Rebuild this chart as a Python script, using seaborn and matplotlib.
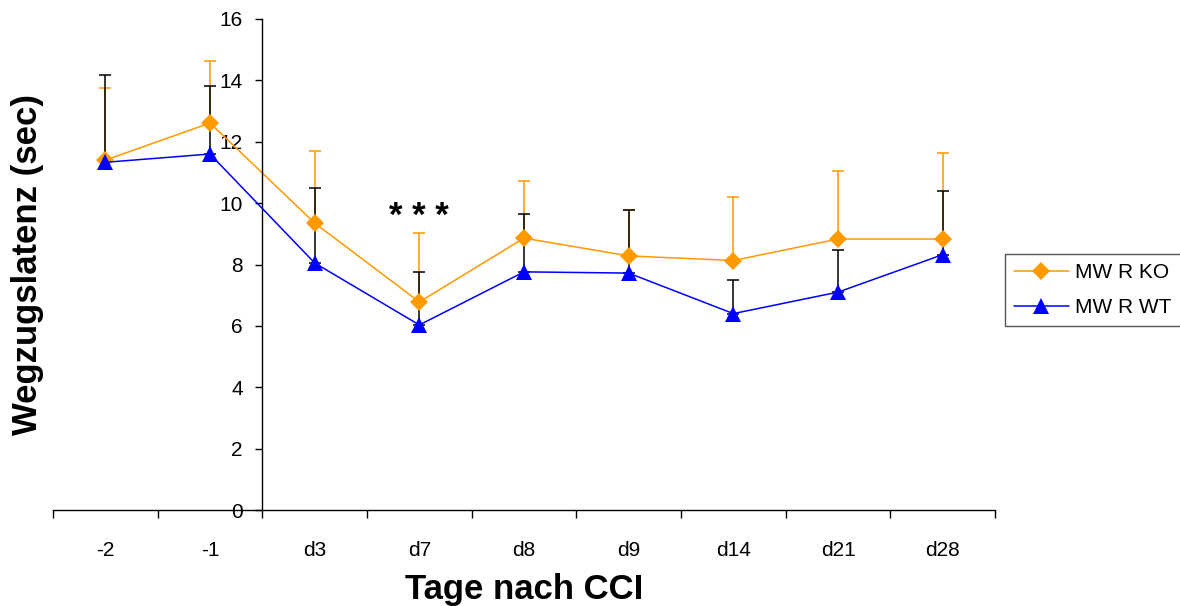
import matplotlib
matplotlib.use('Agg')
import matplotlib.pyplot as plt
from matplotlib.ticker import FixedLocator
import seaborn as sns
import pandas as pd
import numpy as np

sns.set_style('ticks')
plt.rcParams['font.family'] = ['Liberation Sans', 'DejaVu Sans']
plt.rcParams['text.color'] = 'black'
plt.rcParams['axes.labelcolor'] = 'black'

days = ['-2', '-1', 'd3', 'd7', 'd8', 'd9', 'd14', 'd21', 'd28']
ko_mean = [11.40, 12.61, 9.35, 6.78, 8.86, 8.28, 8.13, 8.83, 8.83]
ko_upper = [13.75, 14.63, 11.70, 9.03, 10.72, 9.78, 10.20, 11.05, 11.63]
wt_mean = [11.33, 11.60, 8.05, 6.03, 7.76, 7.72, 6.40, 7.10, 8.32]
wt_upper = [14.17, 13.82, 10.49, 7.75, 9.64, 9.78, 7.49, 8.47, 10.39]

ko_color = '#FF9900'
wt_color = '#0000FF'

df = pd.DataFrame({
    'Tag': days * 2,
    'Wert': ko_mean + wt_mean,
    'Gruppe': ['MW R KO'] * len(days) + ['MW R WT'] * len(days),
})

fig = plt.figure(figsize=(11.8, 6.06), dpi=100)
ax = fig.add_axes([53 / 1180, 1 - 510 / 606, 942 / 1180, 491 / 606])

pos = np.arange(len(days))
ax.errorbar(pos, ko_mean, yerr=[np.zeros(len(days)), np.array(ko_upper) - np.array(ko_mean)],
            fmt='none', ecolor=ko_color, elinewidth=1.1, capsize=4.5, capthick=1.1, zorder=1)
ax.errorbar(pos, wt_mean, yerr=[np.zeros(len(days)), np.array(wt_upper) - np.array(wt_mean)],
            fmt='none', ecolor='black', elinewidth=1.1, capsize=4.5, capthick=1.1, zorder=1)

sns.lineplot(data=df, x='Tag', y='Wert', hue='Gruppe', style='Gruppe', sort=False,
             palette={'MW R KO': ko_color, 'MW R WT': wt_color},
             markers={'MW R KO': 'D', 'MW R WT': '^'}, dashes=False,
             markersize=12, markeredgewidth=0, linewidth=1.1, ax=ax, zorder=3)
for line in ax.get_lines():
    if line.get_marker() == 'D':
        line.set_markersize(9)
        line.set_zorder(2)

ax.set_xlim(-0.5, len(days) - 0.5)
ax.set_ylim(0, 16)
ax.set_yticks(range(0, 17, 2))
ax.spines['left'].set_position(('data', 1.5))
ax.spines['top'].set_visible(False)
ax.spines['right'].set_visible(False)
for s in ['left', 'bottom']:
    ax.spines[s].set_linewidth(1.0)
    ax.spines[s].set_color('black')

ax.set_xticks(pos)
ax.set_xticklabels(days)
ax.xaxis.set_minor_locator(FixedLocator(np.arange(-0.5, len(days), 1.0)))
ax.tick_params(axis='x', which='major', length=0, pad=22, labelsize=15, colors='black')
ax.tick_params(axis='x', which='minor', length=6, width=1.0, direction='out', color='black')
ax.tick_params(axis='y', length=5, width=1.0, direction='out', pad=9, labelsize=15, colors='black')

ax.set_xlabel('Tage nach CCI', fontsize=25, fontweight='bold', color='black')
ax.set_ylabel('Wegzugslatenz (sec)', fontsize=25, fontweight='bold', color='black')
ax.xaxis.set_label_coords(0.5, -0.128)
ax.yaxis.set_label_coords(-0.010, 0.5)

ax.text(3, 9.55, '* * *', ha='center', va='center', fontsize=25, fontweight='bold', color='black')

handles, labels = ax.get_legend_handles_labels()
leg = ax.legend(handles, labels, loc='center left', bbox_to_anchor=(1005 / 1180, 1 - 290 / 606),
                bbox_transform=fig.transFigure, frameon=True, fancybox=False, fontsize=15,
                edgecolor='#555555', framealpha=1, borderaxespad=0, handlelength=2.6,
                labelspacing=0.75, borderpad=0.45, handletextpad=0.3)
leg.get_frame().set_linewidth(1.0)
for t in leg.get_texts():
    t.set_color('black')

plt.savefig('out.png', dpi=100)
